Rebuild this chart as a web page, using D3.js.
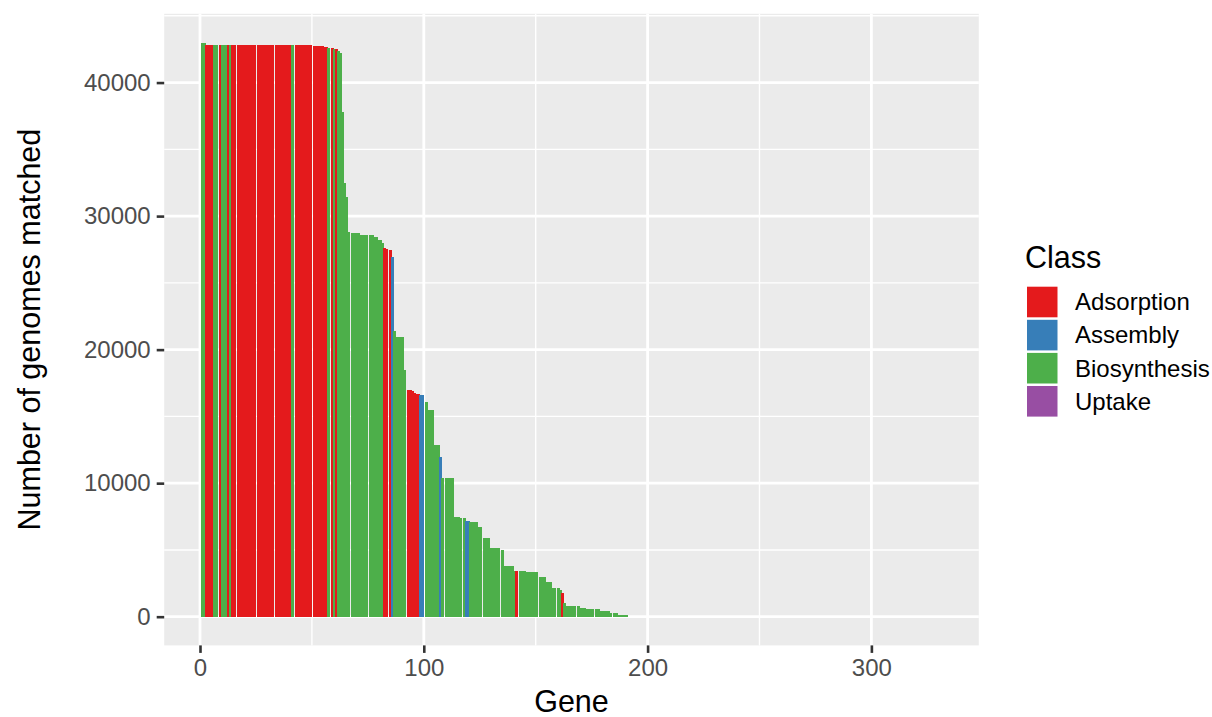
<!DOCTYPE html>
<html>
<head>
<meta charset="utf-8">
<script src="https://cdn.jsdelivr.net/npm/d3@7"></script>
<style>
  body { margin: 0; background: #ffffff; }
  text { font-family: "Liberation Sans", Arial, sans-serif; }
</style>
</head>
<body>
<svg id="chart" width="1212" height="717"></svg>
<script>
// Gene classes and their fill colours (ColorBrewer Set1)
const classNames = ["Adsorption", "Assembly", "Biosynthesis", "Uptake"];
const classColors = ["#E41A1C", "#377EB8", "#4DAF4A", "#984EA3"];
const classCodes = { A: "Adsorption", S: "Assembly", B: "Biosynthesis", U: "Uptake" };

// Number of genes on the x axis (genes past the last listed one matched no genomes)
const totalGenes = 331;

// Genomes matched per gene, genes ranked 1..191
const matched = [
  43000, 42950, 42850, 42850, 42850, 42850, 42850, 42850, 42850, 42850,
  42850, 42850, 42850, 42850, 42850, 42850, 42850, 42850, 42850, 42850,
  42850, 42850, 42850, 42850, 42850, 42850, 42850, 42850, 42850, 42850,
  42830, 42830, 42830, 42830, 42830, 42830, 42830, 42830, 42830, 42830,
  42830, 42820, 42800, 42800, 42800, 42800, 42800, 42800, 42800, 42800,
  42750, 42750, 42750, 42750, 42750, 42650, 42650, 42600, 42600, 42550,
  42500, 42350, 42200, 37800, 32500, 31400, 28800, 28700, 28700, 28700,
  28700, 28600, 28600, 28600, 28600, 28600, 28600, 28450, 28450, 28230,
  28230, 28000, 27600, 27500, 27450, 26900, 21400, 20950, 20950, 20950,
  20950, 18500, 17000, 16950, 16900, 16750, 16700, 16650, 16600, 16600,
  16100, 15450, 15450, 15450, 12850, 12850, 12850, 11950, 10400, 10350,
  10350, 10350, 10350, 7480, 7480, 7480, 7360, 7360, 7150, 7150,
  7110, 7110, 7110, 7110, 6730, 6730, 5870, 5870, 5870, 5120,
  5120, 5120, 5120, 5120, 4990, 3800, 3790, 3790, 3790, 3790,
  3450, 3420, 3420, 3420, 3420, 3370, 3370, 3370, 3370, 3370,
  3370, 3000, 3000, 3000, 2620, 2620, 2620, 2120, 2120, 2120,
  2000, 1750, 1000, 800, 800, 800, 800, 800, 800, 630,
  630, 630, 550, 550, 550, 550, 550, 550, 450, 450,
  450, 450, 450, 300, 300, 300, 130, 130, 130, 130,
  130
];

// Class of each gene (A = Adsorption, S = Assembly, B = Biosynthesis, U = Uptake)
const geneClass = [
  "B","B","A","A","A","A","B","B","A","B",
  "B","B","A","B","A","A","A","A","A","A",
  "A","A","A","A","A","A","A","A","A","A",
  "A","A","A","A","A","A","A","A","A","A",
  "A","B","A","A","A","A","A","A","A","A",
  "A","A","A","A","A","A","A","B","A","B",
  "A","B","B","B","B","B","B","B","B","B",
  "B","B","B","B","B","B","B","B","B","B",
  "B","B","A","A","A","S","B","B","B","B",
  "B","B","A","A","A","A","A","A","S","S",
  "B","B","B","B","B","B","B","S","B","B",
  "B","B","B","B","B","B","B","B","S","S",
  "B","B","B","B","B","B","B","B","B","B",
  "B","B","B","B","B","B","B","B","B","B",
  "B","A","B","B","B","B","B","B","B","B",
  "B","B","B","B","B","B","B","B","B","B",
  "B","A","B","B","B","B","B","B","B","B",
  "B","B","B","B","B","B","B","B","B","B",
  "B","B","B","B","B","B","B","B","B","B",
  "B"
];

// Axis breaks
const xTicks = [0, 100, 200, 300];
const xMinor = [50, 150, 250];
const yTicks = [0, 10000, 20000, 30000, 40000];
const yMinor = [5000, 15000, 25000, 35000, 45000];

const genes = matched.map((v, i) => ({ gene: i + 1, value: v, cls: classCodes[geneClass[i]] }));

// Plot panel
const panel = { left: 164.2, right: 978.8, top: 13.8, bottom: 645.4 };
const barWidth = 0.9;

const svg = d3.select("#chart");
const color = d3.scaleOrdinal().domain(classNames).range(classColors);

// Continuous gene axis with 5% padding around the bars
const xLo = 1 - barWidth / 2, xHi = totalGenes + barWidth / 2;
const xPad = 0.05 * (xHi - xLo);
const x = d3.scaleLinear().domain([xLo - xPad, xHi + xPad]).range([panel.left, panel.right]);

const yMax = d3.max(matched);
const y = d3.scaleLinear().domain([-0.05 * yMax, 1.05 * yMax]).range([panel.bottom, panel.top]);

// Panel background
svg.append("rect")
  .attr("x", panel.left).attr("y", panel.top)
  .attr("width", panel.right - panel.left).attr("height", panel.bottom - panel.top)
  .attr("fill", "#EBEBEB");

const grid = svg.append("g");
grid.selectAll(".ymin").data(yMinor.filter(d => y(d) >= panel.top)).join("line")
  .attr("x1", panel.left).attr("x2", panel.right)
  .attr("y1", d => y(d)).attr("y2", d => y(d))
  .attr("stroke", "#fff").attr("stroke-width", 1.4);
grid.selectAll(".xmin").data(xMinor).join("line")
  .attr("x1", d => x(d)).attr("x2", d => x(d))
  .attr("y1", panel.top).attr("y2", panel.bottom)
  .attr("stroke", "#fff").attr("stroke-width", 1.4);
grid.selectAll(".ymaj").data(yTicks).join("line")
  .attr("x1", panel.left).attr("x2", panel.right)
  .attr("y1", d => y(d)).attr("y2", d => y(d))
  .attr("stroke", "#fff").attr("stroke-width", 2.8);
grid.selectAll(".xmaj").data(xTicks).join("line")
  .attr("x1", d => x(d)).attr("x2", d => x(d))
  .attr("y1", panel.top).attr("y2", panel.bottom)
  .attr("stroke", "#fff").attr("stroke-width", 2.8);

// Bars: edges snapped to a coarse 2px grid so the thin gaps between
// neighbouring bars show up only now and then as 1px seams
const snap = v => 2 * Math.round(v / 2);
svg.append("g")
  .selectAll("rect")
  .data(genes)
  .join("rect")
  .attr("x", d => snap(x(d.gene - barWidth / 2)) - 1)
  .attr("width", d => snap(x(d.gene + barWidth / 2)) - snap(x(d.gene - barWidth / 2)) + 1)
  .attr("y", d => Math.round(y(d.value)))
  .attr("height", d => Math.round(y(0)) - Math.round(y(d.value)))
  .attr("fill", d => color(d.cls))
  .attr("shape-rendering", "crispEdges");

// Axes
const styleAxis = g => {
  g.select(".domain").remove();
  g.selectAll(".tick line").attr("stroke", "#333333").attr("stroke-width", 2.6);
  g.selectAll(".tick text").attr("fill", "#4D4D4D").attr("font-size", 24);
};

svg.append("g")
  .attr("transform", `translate(${panel.left},0)`)
  .call(d3.axisLeft(y).tickValues(yTicks).tickSize(7.5).tickPadding(6).tickFormat(d3.format("d")))
  .call(styleAxis);

svg.append("g")
  .attr("transform", `translate(0,${panel.bottom})`)
  .call(d3.axisBottom(x).tickValues(xTicks).tickSize(7.5).tickPadding(6).tickFormat(d3.format("d")))
  .call(styleAxis);

// Axis titles
svg.append("text")
  .attr("x", (panel.left + panel.right) / 2).attr("y", 711.5)
  .attr("text-anchor", "middle").attr("font-size", 30.5).attr("fill", "#000")
  .text("Gene");

svg.append("text")
  .attr("transform", `translate(40,${(panel.top + panel.bottom) / 2}) rotate(-90)`)
  .attr("text-anchor", "middle").attr("font-size", 30.5).attr("fill", "#000")
  .text("Number of genomes matched");

// Legend
const legend = svg.append("g").attr("transform", "translate(1025,0)");
legend.append("text").attr("x", 0).attr("y", 268)
  .attr("font-size", 30.5).attr("fill", "#000").text("Class");
const items = legend.selectAll("g.item").data(classNames).join("g")
  .attr("class", "item")
  .attr("transform", (d, i) => `translate(0,${286.7 + i * 33.1})`);
items.append("rect")
  .attr("x", 2).attr("y", 0).attr("width", 30.5).attr("height", 30.6)
  .attr("fill", d => color(d));
items.append("text")
  .attr("x", 50).attr("y", 15.3).attr("dy", "0.35em")
  .attr("font-size", 24).attr("fill", "#000")
  .text(d => d);
</script>
</body>
</html>
